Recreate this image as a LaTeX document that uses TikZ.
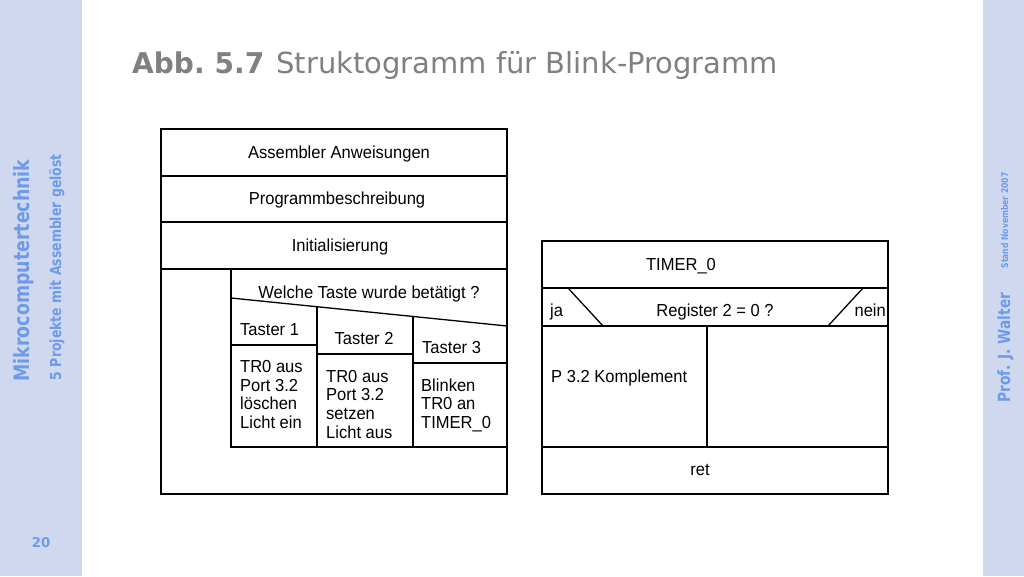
\documentclass[tikz,border=0pt]{standalone}
\usepackage{fontspec}
\newfontfamily\titlefont{DejaVu Sans}
\newfontfamily\titleboldfont[FakeStretch=0.98]{DejaVu Sans Bold}
\newfontfamily\sidefont[FakeStretch=0.82]{DejaVu Sans Bold}
\newfontfamily\dfont[FakeStretch=0.95]{Liberation Sans}
\definecolor{sidebg}{HTML}{D0D8EF}
\definecolor{sideblue}{HTML}{6E9BE9}
\definecolor{titlegray}{HTML}{808080}
\tikzset{
  outer/.style={draw=black, line width=2pt},
  inner/.style={draw=black, line width=1.3pt},
  dtext/.style={font=\dfont\fontsize{17.4}{18}\selectfont, inner sep=0pt, text=black},
  dl/.style={dtext, anchor=base west},
  dc/.style={dtext, anchor=base},
  side/.style={text=sideblue, inner sep=0pt, rotate=90, anchor=base}
}
\begin{document}
\begin{tikzpicture}[x=1pt,y=-1pt]
\useasboundingbox (0,0) rectangle (1024,576);
\fill[white] (0,0) rectangle (1024,576);
\fill[sidebg] (0,0) rectangle (82,576);
\fill[sidebg] (983,0) rectangle (1024,576);

% sidebars
\node[side, font=\sidefont\fontsize{21.2}{25}\selectfont] (mc) at (29,270.5) {Mikrocomputertechnik};
\node[side, font=\sidefont\fontsize{15.2}{18}\selectfont] (pj) at (61,267.5) {5\,\,Projekte mit Assembler gelöst};
\node[text=sideblue, inner sep=0pt, anchor=base, font=\titleboldfont\fontsize{13.5}{15}\selectfont] (pg) at (41,547.5) {20};
\node[side, font=\sidefont\fontsize{16.8}{19}\selectfont] (pw) at (1010,347.5) {Prof. J. Walter};
\node[side, font=\sidefont\fontsize{9.3}{11}\selectfont] (sn) at (1008,220.5) {Stand November 2007};

% title
\node[anchor=base west, inner sep=0pt, text=titlegray, font=\titlefont\fontsize{29}{34}\selectfont] (title) at (132,73) {{\titleboldfont\fontsize{28.6}{34}\selectfont Abb.\hspace{10pt}5.7}\hspace{12pt}Struktogramm für Blink-Programm};

% left structogram
\draw[outer] (161,129) rectangle (507,494);
\draw[outer] (161,176) -- (507,176);
\draw[outer] (161,222) -- (507,222);
\draw[outer] (161,269) -- (507,269);
\draw[inner] (231,269) -- (231,447) -- (507,447);
\draw[inner] (231,298) -- (507,326);
\draw[inner] (317,306.7) -- (317,447);
\draw[inner] (413,316.5) -- (413,447);
\draw[inner] (231,345) -- (317,345);
\draw[inner] (317,354) -- (413,354);
\draw[inner] (413,363) -- (507,363);

\node[dc] (asm) at (339,158) {Assembler Anweisungen};
\node[dc] (pb) at (337,204) {Programmbeschreibung};
\node[dc] (init) at (340,251) {Initialisierung};
\node[dc] (wt) at (369,298) {Welche Taste wurde betätigt ?};
\node[dl] (t1) at (240,335) {Taster 1};
\node[dl] (t2) at (334.5,344.3) {Taster 2};
\node[dl] (t3) at (422,353.3) {Taster 3};

\node[dl] (a1) at (240,372.5) {TR0 aus};
\node[dl] (a2) at (240,391.2) {Port 3.2};
\node[dl] (a3) at (240,409.9) {löschen};
\node[dl] (a4) at (240,428.6) {Licht ein};

\node[dl] (b1) at (326,382) {TR0 aus};
\node[dl] (b2) at (326,400.7) {Port 3.2};
\node[dl] (b3) at (326,419.4) {setzen};
\node[dl] (b4) at (326,438.1) {Licht aus};

\node[dl] (c1) at (421,391) {Blinken};
\node[dl] (c2) at (421,409.7) {TR0 an};
\node[dl] (c3) at (421,428.4) {TIMER\_0};

% right structogram
\draw[outer] (542,241) rectangle (888,494);
\draw[outer] (542,288) -- (888,288);
\draw[outer] (542,326) -- (888,326);
\draw[outer] (542,447) -- (888,447);
\draw[inner] (707,326) -- (707,447);
\draw[inner] (568,288) -- (603,326);
\draw[inner] (863,288) -- (828,326);

\node[dc] (tm) at (681,270) {TIMER\_0};
\node[dl] (ja) at (550,316.5) {ja};
\node[dc] (reg) at (715,316.5) {Register 2 = 0 ?};
\node[dtext, anchor=base east] (nein) at (886,316.5) {nein};
\node[dl] (pk) at (551,382) {P 3.2 Komplement};
\node[dc] (ret) at (700,475) {ret};
\end{tikzpicture}
\end{document}
